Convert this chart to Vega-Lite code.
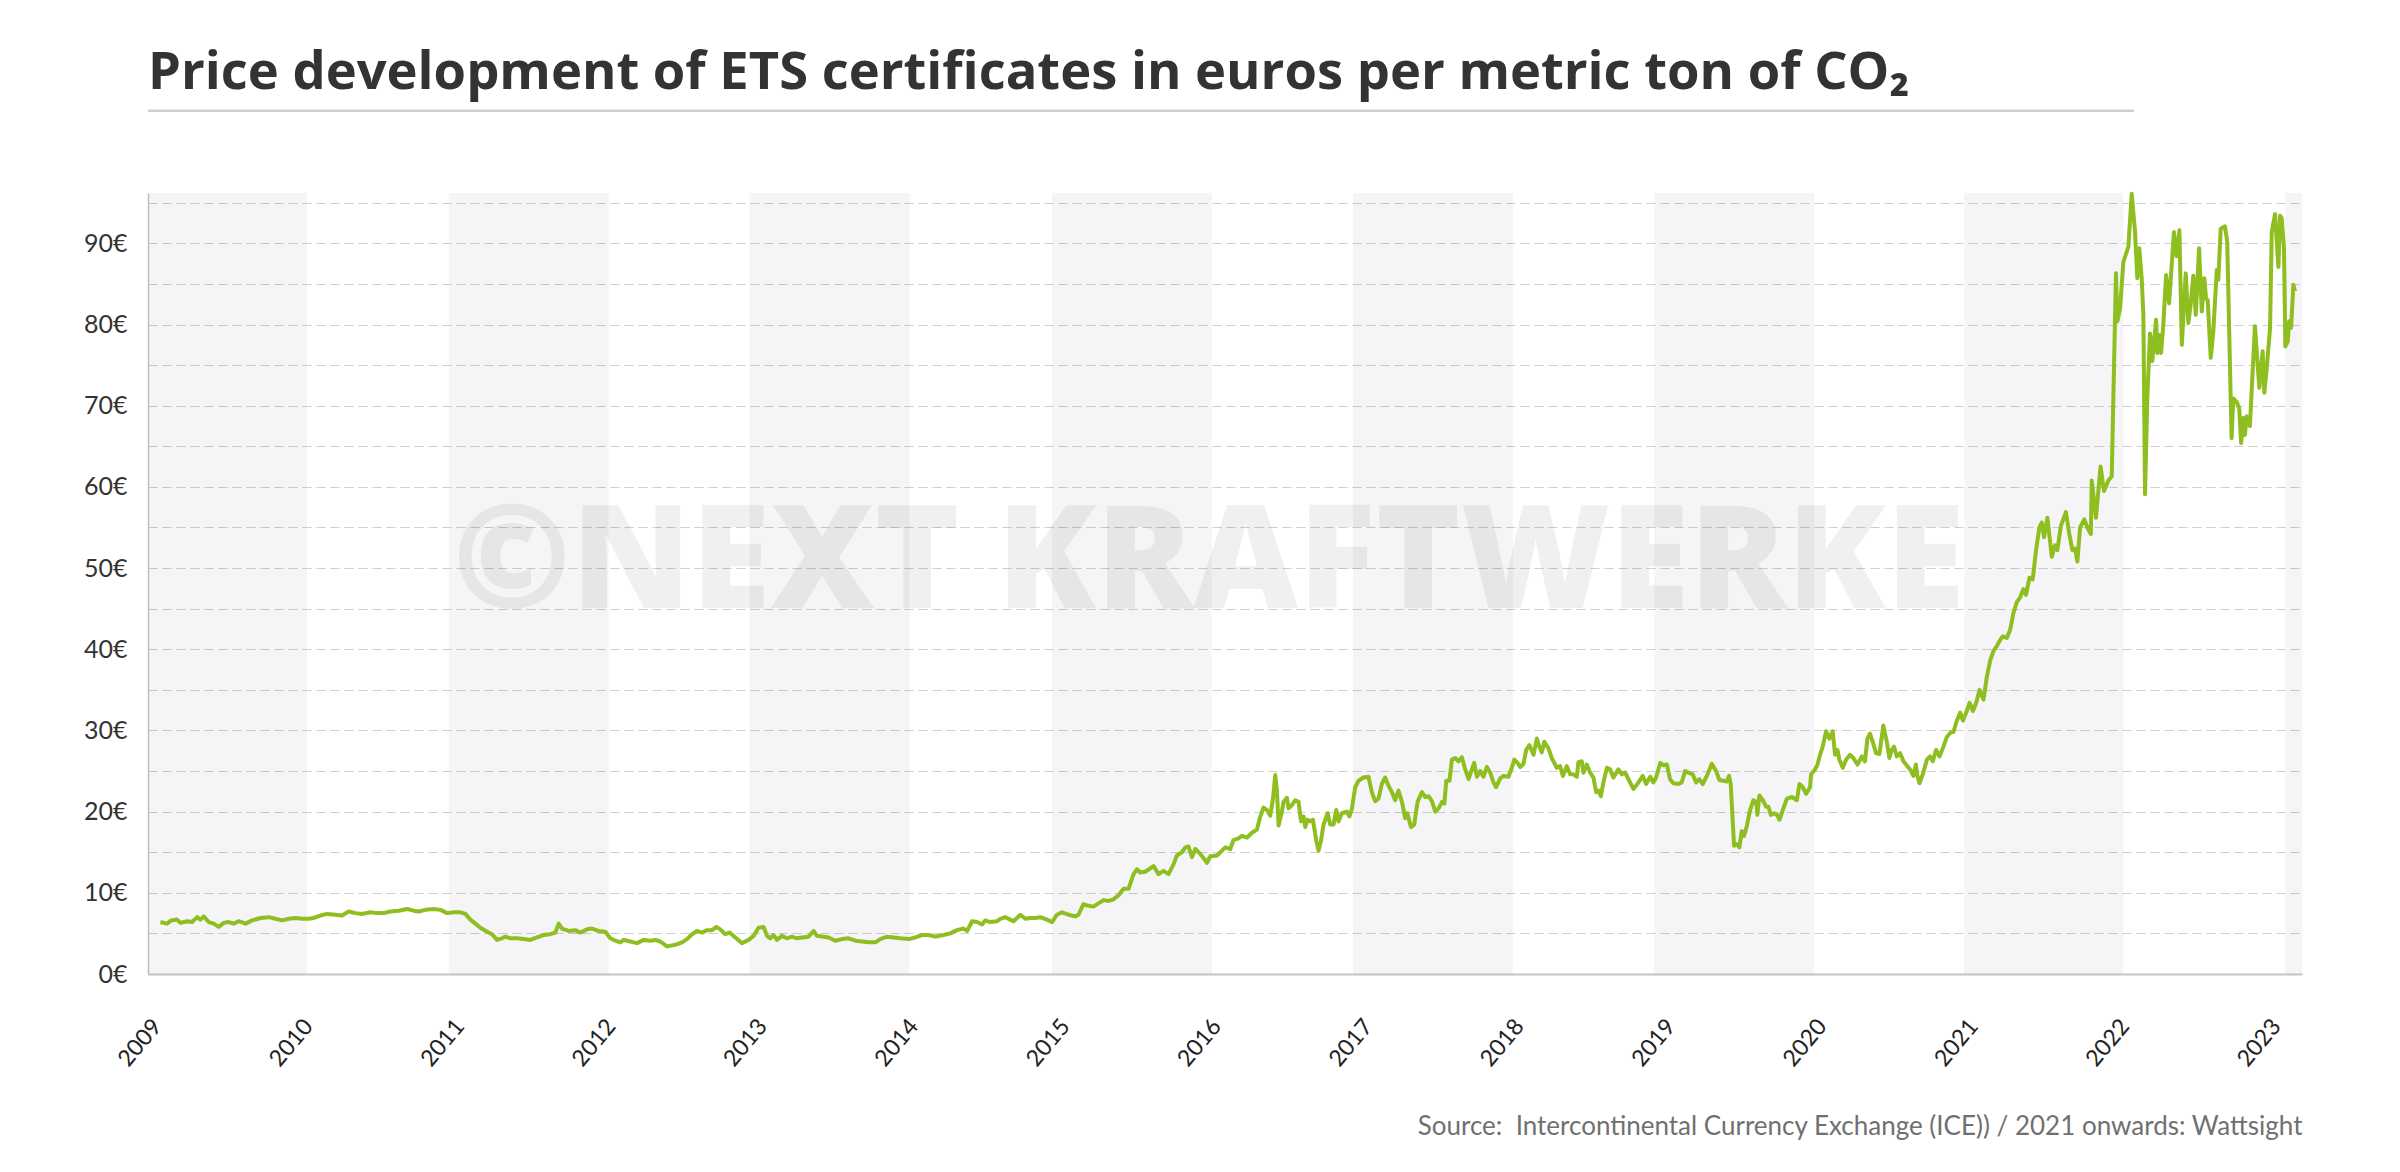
{
  "$schema": "https://vega.github.io/schema/vega-lite/v6.json",
  "width": 2154,
  "height": 781,
  "autosize": {"type": "none"},
  "padding": {"left": 148, "top": 193, "right": 98, "bottom": 198},
  "background": "white",
  "title": {
    "text": "Price development of ETS certificates in euros per metric ton of CO₂",
    "anchor": "start",
    "frame": "group",
    "font": "Open Sans",
    "fontSize": 52.5,
    "fontWeight": "bold",
    "color": "#333333",
    "baseline": "alphabetic",
    "offset": -32
  },
  "datasets": {
    "bands": [
      {"s": 2008.941, "e": 2009.992},
      {"s": 2010.927, "e": 2011.984},
      {"s": 2012.915, "e": 2013.972},
      {"s": 2014.913, "e": 2015.970},
      {"s": 2016.901, "e": 2017.958},
      {"s": 2018.891, "e": 2019.949},
      {"s": 2020.939, "e": 2021.991},
      {"s": 2023.059, "e": 2023.171}
    ],
    "prices": [
      {"t": 2009.023, "p": 6.4}, {"t": 2009.067, "p": 6.2}, {"t": 2009.094, "p": 6.6}, {"t": 2009.133, "p": 6.7},
      {"t": 2009.155, "p": 6.3}, {"t": 2009.199, "p": 6.5}, {"t": 2009.232, "p": 6.4}, {"t": 2009.266, "p": 7.0},
      {"t": 2009.287, "p": 6.7}, {"t": 2009.309, "p": 7.1}, {"t": 2009.342, "p": 6.4}, {"t": 2009.375, "p": 6.2},
      {"t": 2009.408, "p": 5.8}, {"t": 2009.441, "p": 6.3}, {"t": 2009.474, "p": 6.4}, {"t": 2009.507, "p": 6.2},
      {"t": 2009.540, "p": 6.5}, {"t": 2009.585, "p": 6.2}, {"t": 2009.629, "p": 6.6}, {"t": 2009.684, "p": 6.9},
      {"t": 2009.738, "p": 7.0}, {"t": 2009.783, "p": 6.8}, {"t": 2009.827, "p": 6.6}, {"t": 2009.871, "p": 6.8},
      {"t": 2009.915, "p": 6.9}, {"t": 2009.959, "p": 6.8}, {"t": 2010.003, "p": 6.8}, {"t": 2010.036, "p": 6.9},
      {"t": 2010.080, "p": 7.2}, {"t": 2010.124, "p": 7.4}, {"t": 2010.179, "p": 7.3}, {"t": 2010.223, "p": 7.2},
      {"t": 2010.267, "p": 7.7}, {"t": 2010.311, "p": 7.5}, {"t": 2010.355, "p": 7.4}, {"t": 2010.410, "p": 7.6},
      {"t": 2010.454, "p": 7.5}, {"t": 2010.498, "p": 7.5}, {"t": 2010.542, "p": 7.7}, {"t": 2010.597, "p": 7.8},
      {"t": 2010.653, "p": 8.0}, {"t": 2010.696, "p": 7.8}, {"t": 2010.729, "p": 7.7}, {"t": 2010.773, "p": 7.9},
      {"t": 2010.828, "p": 8.0}, {"t": 2010.873, "p": 7.9}, {"t": 2010.917, "p": 7.5}, {"t": 2010.960, "p": 7.6},
      {"t": 2011.005, "p": 7.6}, {"t": 2011.038, "p": 7.4}, {"t": 2011.071, "p": 6.7}, {"t": 2011.104, "p": 6.2},
      {"t": 2011.137, "p": 5.7}, {"t": 2011.181, "p": 5.2}, {"t": 2011.214, "p": 4.9}, {"t": 2011.247, "p": 4.2},
      {"t": 2011.280, "p": 4.4}, {"t": 2011.302, "p": 4.6}, {"t": 2011.335, "p": 4.4}, {"t": 2011.379, "p": 4.4},
      {"t": 2011.423, "p": 4.3}, {"t": 2011.467, "p": 4.2}, {"t": 2011.511, "p": 4.5}, {"t": 2011.555, "p": 4.8},
      {"t": 2011.599, "p": 4.9}, {"t": 2011.632, "p": 5.1}, {"t": 2011.654, "p": 6.2}, {"t": 2011.676, "p": 5.6},
      {"t": 2011.720, "p": 5.3}, {"t": 2011.764, "p": 5.4}, {"t": 2011.797, "p": 5.1}, {"t": 2011.841, "p": 5.5},
      {"t": 2011.874, "p": 5.6}, {"t": 2011.918, "p": 5.3}, {"t": 2011.962, "p": 5.2}, {"t": 2011.995, "p": 4.4},
      {"t": 2012.028, "p": 4.1}, {"t": 2012.061, "p": 3.9}, {"t": 2012.083, "p": 4.2}, {"t": 2012.127, "p": 4.0},
      {"t": 2012.172, "p": 3.8}, {"t": 2012.215, "p": 4.2}, {"t": 2012.260, "p": 4.1}, {"t": 2012.293, "p": 4.2},
      {"t": 2012.326, "p": 4.0}, {"t": 2012.370, "p": 3.4}, {"t": 2012.425, "p": 3.6}, {"t": 2012.469, "p": 3.9},
      {"t": 2012.502, "p": 4.3}, {"t": 2012.535, "p": 4.9}, {"t": 2012.568, "p": 5.3}, {"t": 2012.601, "p": 5.1},
      {"t": 2012.634, "p": 5.4}, {"t": 2012.667, "p": 5.4}, {"t": 2012.696, "p": 5.8}, {"t": 2012.722, "p": 5.5},
      {"t": 2012.755, "p": 4.9}, {"t": 2012.783, "p": 5.1}, {"t": 2012.821, "p": 4.5}, {"t": 2012.865, "p": 3.8},
      {"t": 2012.909, "p": 4.2}, {"t": 2012.942, "p": 4.7}, {"t": 2012.975, "p": 5.7}, {"t": 2013.008, "p": 5.8},
      {"t": 2013.030, "p": 4.7}, {"t": 2013.052, "p": 4.4}, {"t": 2013.074, "p": 4.8}, {"t": 2013.096, "p": 4.2},
      {"t": 2013.129, "p": 4.7}, {"t": 2013.162, "p": 4.4}, {"t": 2013.195, "p": 4.6}, {"t": 2013.228, "p": 4.4},
      {"t": 2013.262, "p": 4.5}, {"t": 2013.305, "p": 4.6}, {"t": 2013.338, "p": 5.3}, {"t": 2013.360, "p": 4.7},
      {"t": 2013.404, "p": 4.6}, {"t": 2013.437, "p": 4.5}, {"t": 2013.481, "p": 4.1}, {"t": 2013.526, "p": 4.3},
      {"t": 2013.569, "p": 4.4}, {"t": 2013.614, "p": 4.1}, {"t": 2013.658, "p": 4.0}, {"t": 2013.701, "p": 3.9},
      {"t": 2013.746, "p": 3.9}, {"t": 2013.779, "p": 4.3}, {"t": 2013.823, "p": 4.6}, {"t": 2013.867, "p": 4.5},
      {"t": 2013.911, "p": 4.4}, {"t": 2013.966, "p": 4.3}, {"t": 2014.010, "p": 4.5}, {"t": 2014.054, "p": 4.8},
      {"t": 2014.098, "p": 4.8}, {"t": 2014.142, "p": 4.6}, {"t": 2014.197, "p": 4.8}, {"t": 2014.241, "p": 5.0},
      {"t": 2014.285, "p": 5.4}, {"t": 2014.329, "p": 5.6}, {"t": 2014.352, "p": 5.3}, {"t": 2014.385, "p": 6.5},
      {"t": 2014.418, "p": 6.4}, {"t": 2014.451, "p": 6.1}, {"t": 2014.472, "p": 6.6}, {"t": 2014.505, "p": 6.4},
      {"t": 2014.550, "p": 6.5}, {"t": 2014.571, "p": 6.8}, {"t": 2014.604, "p": 7.0}, {"t": 2014.637, "p": 6.7},
      {"t": 2014.659, "p": 6.5}, {"t": 2014.704, "p": 7.3}, {"t": 2014.737, "p": 6.8}, {"t": 2014.770, "p": 6.9},
      {"t": 2014.802, "p": 6.9}, {"t": 2014.835, "p": 7.0}, {"t": 2014.880, "p": 6.7}, {"t": 2014.913, "p": 6.4},
      {"t": 2014.946, "p": 7.3}, {"t": 2014.979, "p": 7.6}, {"t": 2015.022, "p": 7.3}, {"t": 2015.067, "p": 7.1},
      {"t": 2015.088, "p": 7.3}, {"t": 2015.121, "p": 8.6}, {"t": 2015.154, "p": 8.4}, {"t": 2015.187, "p": 8.3},
      {"t": 2015.220, "p": 8.7}, {"t": 2015.254, "p": 9.1}, {"t": 2015.287, "p": 9.0}, {"t": 2015.320, "p": 9.2},
      {"t": 2015.353, "p": 9.7}, {"t": 2015.386, "p": 10.5}, {"t": 2015.419, "p": 10.5}, {"t": 2015.452, "p": 12.3},
      {"t": 2015.474, "p": 12.9}, {"t": 2015.496, "p": 12.5}, {"t": 2015.529, "p": 12.6}, {"t": 2015.562, "p": 13.0},
      {"t": 2015.584, "p": 13.3}, {"t": 2015.617, "p": 12.3}, {"t": 2015.650, "p": 12.7}, {"t": 2015.683, "p": 12.3},
      {"t": 2015.716, "p": 13.5}, {"t": 2015.738, "p": 14.6}, {"t": 2015.771, "p": 15.0}, {"t": 2015.794, "p": 15.6},
      {"t": 2015.815, "p": 15.7}, {"t": 2015.838, "p": 14.4}, {"t": 2015.860, "p": 15.4}, {"t": 2015.893, "p": 14.8},
      {"t": 2015.937, "p": 13.7}, {"t": 2015.959, "p": 14.5}, {"t": 2016.003, "p": 14.6}, {"t": 2016.036, "p": 15.2},
      {"t": 2016.058, "p": 15.6}, {"t": 2016.091, "p": 15.4}, {"t": 2016.112, "p": 16.5}, {"t": 2016.145, "p": 16.7},
      {"t": 2016.168, "p": 17.0}, {"t": 2016.201, "p": 16.8}, {"t": 2016.234, "p": 17.4}, {"t": 2016.267, "p": 17.8},
      {"t": 2016.289, "p": 19.4}, {"t": 2016.311, "p": 20.5}, {"t": 2016.333, "p": 20.2}, {"t": 2016.355, "p": 19.5},
      {"t": 2016.373, "p": 21.6}, {"t": 2016.388, "p": 24.5}, {"t": 2016.399, "p": 22.6}, {"t": 2016.410, "p": 18.3},
      {"t": 2016.432, "p": 20.0}, {"t": 2016.443, "p": 21.2}, {"t": 2016.465, "p": 21.7}, {"t": 2016.476, "p": 20.4},
      {"t": 2016.498, "p": 20.8}, {"t": 2016.520, "p": 21.4}, {"t": 2016.542, "p": 21.2}, {"t": 2016.558, "p": 18.8},
      {"t": 2016.575, "p": 19.4}, {"t": 2016.586, "p": 18.1}, {"t": 2016.601, "p": 19.0}, {"t": 2016.619, "p": 18.8},
      {"t": 2016.637, "p": 19.0}, {"t": 2016.659, "p": 16.4}, {"t": 2016.674, "p": 15.2}, {"t": 2016.690, "p": 16.4},
      {"t": 2016.707, "p": 18.4}, {"t": 2016.734, "p": 19.8}, {"t": 2016.751, "p": 18.4}, {"t": 2016.773, "p": 18.4},
      {"t": 2016.791, "p": 20.2}, {"t": 2016.806, "p": 18.8}, {"t": 2016.828, "p": 19.8}, {"t": 2016.861, "p": 20.0},
      {"t": 2016.878, "p": 19.4}, {"t": 2016.894, "p": 20.3}, {"t": 2016.916, "p": 23.0}, {"t": 2016.938, "p": 23.8},
      {"t": 2016.971, "p": 24.2}, {"t": 2017.004, "p": 24.3}, {"t": 2017.026, "p": 22.4}, {"t": 2017.048, "p": 21.3},
      {"t": 2017.070, "p": 21.6}, {"t": 2017.092, "p": 23.4}, {"t": 2017.114, "p": 24.2}, {"t": 2017.136, "p": 23.2},
      {"t": 2017.159, "p": 22.4}, {"t": 2017.180, "p": 21.4}, {"t": 2017.202, "p": 22.6}, {"t": 2017.225, "p": 21.2},
      {"t": 2017.246, "p": 19.2}, {"t": 2017.261, "p": 19.8}, {"t": 2017.284, "p": 18.1}, {"t": 2017.306, "p": 18.4},
      {"t": 2017.328, "p": 21.2}, {"t": 2017.357, "p": 22.4}, {"t": 2017.379, "p": 21.8}, {"t": 2017.401, "p": 21.9},
      {"t": 2017.423, "p": 21.3}, {"t": 2017.445, "p": 20.0}, {"t": 2017.467, "p": 20.4}, {"t": 2017.490, "p": 21.2},
      {"t": 2017.505, "p": 21.0}, {"t": 2017.518, "p": 23.8}, {"t": 2017.539, "p": 23.8}, {"t": 2017.555, "p": 26.4},
      {"t": 2017.577, "p": 26.6}, {"t": 2017.599, "p": 26.2}, {"t": 2017.621, "p": 26.7}, {"t": 2017.643, "p": 25.2},
      {"t": 2017.665, "p": 24.0}, {"t": 2017.687, "p": 25.2}, {"t": 2017.702, "p": 26.0}, {"t": 2017.720, "p": 24.3},
      {"t": 2017.742, "p": 25.0}, {"t": 2017.764, "p": 24.3}, {"t": 2017.786, "p": 25.5}, {"t": 2017.808, "p": 24.8},
      {"t": 2017.830, "p": 23.6}, {"t": 2017.847, "p": 23.0}, {"t": 2017.874, "p": 24.1}, {"t": 2017.896, "p": 24.4},
      {"t": 2017.929, "p": 24.3}, {"t": 2017.951, "p": 25.4}, {"t": 2017.967, "p": 26.4}, {"t": 2017.988, "p": 26.0},
      {"t": 2018.006, "p": 25.5}, {"t": 2018.028, "p": 25.9}, {"t": 2018.046, "p": 27.6}, {"t": 2018.067, "p": 28.2},
      {"t": 2018.094, "p": 27.0}, {"t": 2018.116, "p": 29.0}, {"t": 2018.133, "p": 28.0}, {"t": 2018.149, "p": 27.3},
      {"t": 2018.165, "p": 28.6}, {"t": 2018.193, "p": 27.8}, {"t": 2018.215, "p": 26.6}, {"t": 2018.248, "p": 25.4},
      {"t": 2018.270, "p": 25.6}, {"t": 2018.288, "p": 24.4}, {"t": 2018.314, "p": 25.6}, {"t": 2018.336, "p": 24.6},
      {"t": 2018.358, "p": 24.6}, {"t": 2018.380, "p": 24.3}, {"t": 2018.391, "p": 26.1}, {"t": 2018.413, "p": 26.2},
      {"t": 2018.424, "p": 24.8}, {"t": 2018.446, "p": 25.8}, {"t": 2018.468, "p": 24.8}, {"t": 2018.490, "p": 24.2},
      {"t": 2018.508, "p": 22.4}, {"t": 2018.523, "p": 22.6}, {"t": 2018.539, "p": 21.9}, {"t": 2018.556, "p": 23.6},
      {"t": 2018.579, "p": 25.4}, {"t": 2018.601, "p": 25.2}, {"t": 2018.622, "p": 24.2}, {"t": 2018.655, "p": 25.2},
      {"t": 2018.678, "p": 24.6}, {"t": 2018.700, "p": 24.8}, {"t": 2018.721, "p": 24.0}, {"t": 2018.754, "p": 22.8},
      {"t": 2018.788, "p": 23.6}, {"t": 2018.816, "p": 24.4}, {"t": 2018.838, "p": 23.4}, {"t": 2018.865, "p": 24.3},
      {"t": 2018.886, "p": 23.6}, {"t": 2018.904, "p": 24.2}, {"t": 2018.931, "p": 26.0}, {"t": 2018.952, "p": 25.7},
      {"t": 2018.975, "p": 25.8}, {"t": 2018.996, "p": 24.0}, {"t": 2019.018, "p": 23.5}, {"t": 2019.051, "p": 23.4},
      {"t": 2019.073, "p": 23.6}, {"t": 2019.096, "p": 25.0}, {"t": 2019.117, "p": 24.8}, {"t": 2019.146, "p": 24.6},
      {"t": 2019.168, "p": 23.6}, {"t": 2019.190, "p": 24.0}, {"t": 2019.212, "p": 23.4}, {"t": 2019.239, "p": 24.4},
      {"t": 2019.272, "p": 25.9}, {"t": 2019.300, "p": 25.0}, {"t": 2019.322, "p": 23.9}, {"t": 2019.349, "p": 23.8},
      {"t": 2019.371, "p": 23.7}, {"t": 2019.386, "p": 24.4}, {"t": 2019.397, "p": 23.4}, {"t": 2019.419, "p": 15.8},
      {"t": 2019.437, "p": 16.0}, {"t": 2019.454, "p": 15.6}, {"t": 2019.470, "p": 17.6}, {"t": 2019.485, "p": 17.0},
      {"t": 2019.503, "p": 18.2}, {"t": 2019.525, "p": 20.2}, {"t": 2019.547, "p": 21.4}, {"t": 2019.565, "p": 21.2},
      {"t": 2019.573, "p": 19.6}, {"t": 2019.586, "p": 22.0}, {"t": 2019.609, "p": 21.4}, {"t": 2019.631, "p": 20.6},
      {"t": 2019.646, "p": 20.6}, {"t": 2019.662, "p": 19.6}, {"t": 2019.684, "p": 19.8}, {"t": 2019.702, "p": 19.6},
      {"t": 2019.719, "p": 19.0}, {"t": 2019.745, "p": 20.4}, {"t": 2019.768, "p": 21.6}, {"t": 2019.801, "p": 21.8},
      {"t": 2019.834, "p": 21.4}, {"t": 2019.851, "p": 23.4}, {"t": 2019.873, "p": 23.0}, {"t": 2019.895, "p": 22.2},
      {"t": 2019.921, "p": 23.0}, {"t": 2019.928, "p": 24.6}, {"t": 2019.954, "p": 25.2}, {"t": 2019.970, "p": 25.8},
      {"t": 2019.987, "p": 27.0}, {"t": 2020.005, "p": 28.0}, {"t": 2020.027, "p": 29.9}, {"t": 2020.049, "p": 29.0},
      {"t": 2020.071, "p": 29.9}, {"t": 2020.086, "p": 27.0}, {"t": 2020.102, "p": 27.6}, {"t": 2020.115, "p": 26.4},
      {"t": 2020.137, "p": 25.4}, {"t": 2020.159, "p": 26.4}, {"t": 2020.185, "p": 27.0}, {"t": 2020.207, "p": 26.6},
      {"t": 2020.234, "p": 25.8}, {"t": 2020.263, "p": 26.8}, {"t": 2020.284, "p": 26.2}, {"t": 2020.300, "p": 29.0},
      {"t": 2020.317, "p": 29.6}, {"t": 2020.335, "p": 28.6}, {"t": 2020.357, "p": 27.2}, {"t": 2020.379, "p": 27.1},
      {"t": 2020.405, "p": 30.6}, {"t": 2020.428, "p": 28.6}, {"t": 2020.445, "p": 26.6}, {"t": 2020.461, "p": 27.6},
      {"t": 2020.476, "p": 28.0}, {"t": 2020.494, "p": 26.8}, {"t": 2020.516, "p": 27.2}, {"t": 2020.538, "p": 26.2},
      {"t": 2020.564, "p": 25.6}, {"t": 2020.582, "p": 25.2}, {"t": 2020.604, "p": 24.4}, {"t": 2020.620, "p": 25.8},
      {"t": 2020.630, "p": 24.4}, {"t": 2020.644, "p": 23.5}, {"t": 2020.666, "p": 24.6}, {"t": 2020.693, "p": 26.4},
      {"t": 2020.714, "p": 26.8}, {"t": 2020.732, "p": 26.2}, {"t": 2020.754, "p": 27.6}, {"t": 2020.776, "p": 26.8},
      {"t": 2020.802, "p": 28.0}, {"t": 2020.825, "p": 29.2}, {"t": 2020.852, "p": 29.8}, {"t": 2020.869, "p": 29.8},
      {"t": 2020.887, "p": 31.0}, {"t": 2020.913, "p": 32.2}, {"t": 2020.931, "p": 31.2}, {"t": 2020.953, "p": 32.2},
      {"t": 2020.975, "p": 33.4}, {"t": 2020.997, "p": 32.4}, {"t": 2021.019, "p": 33.4}, {"t": 2021.041, "p": 35.0},
      {"t": 2021.067, "p": 33.8}, {"t": 2021.089, "p": 36.6}, {"t": 2021.111, "p": 38.6}, {"t": 2021.133, "p": 39.8},
      {"t": 2021.155, "p": 40.4}, {"t": 2021.172, "p": 41.0}, {"t": 2021.194, "p": 41.6}, {"t": 2021.221, "p": 41.4},
      {"t": 2021.243, "p": 42.4}, {"t": 2021.264, "p": 44.4}, {"t": 2021.287, "p": 45.8}, {"t": 2021.309, "p": 46.4},
      {"t": 2021.330, "p": 47.4}, {"t": 2021.348, "p": 46.7}, {"t": 2021.370, "p": 48.8}, {"t": 2021.392, "p": 48.6},
      {"t": 2021.414, "p": 52.2}, {"t": 2021.436, "p": 55.0}, {"t": 2021.452, "p": 55.6}, {"t": 2021.467, "p": 53.8},
      {"t": 2021.489, "p": 56.2}, {"t": 2021.518, "p": 51.4}, {"t": 2021.540, "p": 52.8}, {"t": 2021.555, "p": 52.2},
      {"t": 2021.578, "p": 55.2}, {"t": 2021.611, "p": 56.9}, {"t": 2021.632, "p": 54.4}, {"t": 2021.654, "p": 52.2},
      {"t": 2021.672, "p": 52.4}, {"t": 2021.687, "p": 50.8}, {"t": 2021.705, "p": 55.0}, {"t": 2021.733, "p": 56.0},
      {"t": 2021.753, "p": 55.0}, {"t": 2021.776, "p": 54.2}, {"t": 2021.782, "p": 60.8}, {"t": 2021.810, "p": 56.2},
      {"t": 2021.840, "p": 62.5}, {"t": 2021.863, "p": 59.5}, {"t": 2021.892, "p": 60.8}, {"t": 2021.914, "p": 61.3},
      {"t": 2021.942, "p": 86.3}, {"t": 2021.951, "p": 80.4}, {"t": 2021.969, "p": 82.0}, {"t": 2021.991, "p": 87.7},
      {"t": 2022.024, "p": 89.6}, {"t": 2022.046, "p": 96.1}, {"t": 2022.068, "p": 91.4}, {"t": 2022.083, "p": 85.7},
      {"t": 2022.096, "p": 89.4}, {"t": 2022.112, "p": 85.7}, {"t": 2022.123, "p": 81.2}, {"t": 2022.134, "p": 59.1},
      {"t": 2022.149, "p": 70.9}, {"t": 2022.167, "p": 78.9}, {"t": 2022.182, "p": 75.5}, {"t": 2022.207, "p": 80.6},
      {"t": 2022.215, "p": 76.5}, {"t": 2022.228, "p": 78.7}, {"t": 2022.240, "p": 76.5}, {"t": 2022.255, "p": 80.0},
      {"t": 2022.273, "p": 86.1}, {"t": 2022.293, "p": 82.6}, {"t": 2022.325, "p": 91.4}, {"t": 2022.343, "p": 88.4},
      {"t": 2022.361, "p": 91.6}, {"t": 2022.377, "p": 77.5}, {"t": 2022.403, "p": 86.3}, {"t": 2022.420, "p": 80.2},
      {"t": 2022.436, "p": 82.6}, {"t": 2022.453, "p": 86.0}, {"t": 2022.469, "p": 81.2}, {"t": 2022.491, "p": 89.4},
      {"t": 2022.509, "p": 81.6}, {"t": 2022.526, "p": 85.7}, {"t": 2022.537, "p": 83.2}, {"t": 2022.548, "p": 83.0},
      {"t": 2022.568, "p": 75.9}, {"t": 2022.585, "p": 79.1}, {"t": 2022.608, "p": 86.7}, {"t": 2022.618, "p": 85.5},
      {"t": 2022.634, "p": 91.8}, {"t": 2022.662, "p": 92.1}, {"t": 2022.677, "p": 90.2}, {"t": 2022.700, "p": 70.9},
      {"t": 2022.706, "p": 66.0}, {"t": 2022.717, "p": 70.9}, {"t": 2022.739, "p": 70.5}, {"t": 2022.756, "p": 69.7},
      {"t": 2022.769, "p": 65.4}, {"t": 2022.783, "p": 68.5}, {"t": 2022.794, "p": 66.4}, {"t": 2022.805, "p": 68.7},
      {"t": 2022.827, "p": 67.5}, {"t": 2022.860, "p": 79.8}, {"t": 2022.889, "p": 72.2}, {"t": 2022.911, "p": 76.7},
      {"t": 2022.922, "p": 71.6}, {"t": 2022.938, "p": 74.6}, {"t": 2022.960, "p": 79.6}, {"t": 2022.971, "p": 91.4},
      {"t": 2022.993, "p": 93.6}, {"t": 2023.015, "p": 87.1}, {"t": 2023.026, "p": 93.4}, {"t": 2023.037, "p": 93.1},
      {"t": 2023.052, "p": 89.4}, {"t": 2023.061, "p": 77.3}, {"t": 2023.077, "p": 77.9}, {"t": 2023.086, "p": 80.4},
      {"t": 2023.099, "p": 79.6}, {"t": 2023.114, "p": 84.9}, {"t": 2023.125, "p": 84.1}
    ]
  },
  "layer": [
    {
      "data": {"name": "bands"},
      "mark": {"type": "rect", "fill": "#000033", "opacity": 0.04},
      "encoding": {
        "x": {
          "field": "s",
          "type": "quantitative",
          "scale": {"domain": [2008.941, 2023.171], "nice": false, "zero": false},
          "axis": {
            "values": [2009, 2010, 2011, 2012, 2013, 2014, 2015, 2016, 2017, 2018, 2019, 2020, 2021, 2022, 2023],
            "format": "d",
            "labelAngle": -50,
            "labelAlign": "right",
            "labelBaseline": "middle",
            "labelFont": "Lato",
            "labelFontSize": 23,
            "labelColor": "#222222",
            "labelPadding": 48,
            "labelOverlap": false,
            "labelFlush": false,
            "ticks": false,
            "grid": false,
            "domainColor": "#c4c4c4",
            "domainWidth": 2,
            "title": "Source:\u00a0 Intercontinental Currency Exchange (ICE)) / 2021 onwards: Wattsight",
            "titleAnchor": "end",
            "titleAlign": "right",
            "titleFont": "Lato",
            "titleFontSize": 26,
            "titleFontWeight": "normal",
            "titleColor": "#707070",
            "titlePadding": 43
          }
        },
        "x2": {"field": "e"}
      }
    },
    {
      "data": {"values": [{"label": "©NEXT KRAFTWERKE"}]},
      "mark": {
        "type": "text",
        "font": "Open Sans",
        "fontSize": 144,
        "fontWeight": 800,
        "fill": "#000000",
        "fillOpacity": 0.06,
        "align": "center",
        "baseline": "alphabetic"
      },
      "encoding": {
        "text": {"field": "label"},
        "x": {"datum": 2015.948, "type": "quantitative"},
        "y": {"datum": 45.04, "type": "quantitative"}
      }
    },
    {
      "data": {"values": [{}]},
      "mark": {"type": "rule", "color": "#cfcfcf", "strokeWidth": 2.5},
      "encoding": {
        "x": {"datum": 2008.941, "type": "quantitative"},
        "x2": {"datum": 2022.061},
        "y": {"datum": 106.33, "type": "quantitative"}
      }
    },
    {
      "data": {"name": "prices"},
      "mark": {"type": "line", "color": "#8ebe1f", "strokeWidth": 4, "strokeJoin": "round"},
      "encoding": {
        "x": {"field": "t", "type": "quantitative"},
        "y": {
          "field": "p",
          "type": "quantitative",
          "scale": {"domain": [0, 96.2], "nice": false, "zero": true},
          "axis": {
            "values": [0, 5, 10, 15, 20, 25, 30, 35, 40, 45, 50, 55, 60, 65, 70, 75, 80, 85, 90, 95],
            "labelExpr": "datum.value % 10 === 0 ? datum.value + '€' : ''",
            "labelFont": "Lato",
            "labelFontSize": 25,
            "labelColor": "#333333",
            "labelPadding": 21,
            "ticks": false,
            "grid": true,
            "gridDash": [9, 5],
            "gridColor": "#cfcfcf",
            "gridWidth": 1.2,
            "domainColor": "#c4c4c4",
            "domainWidth": 1.5,
            "title": null
          }
        }
      }
    }
  ],
  "config": {
    "view": {"stroke": null},
    "font": "Lato"
  }
}
